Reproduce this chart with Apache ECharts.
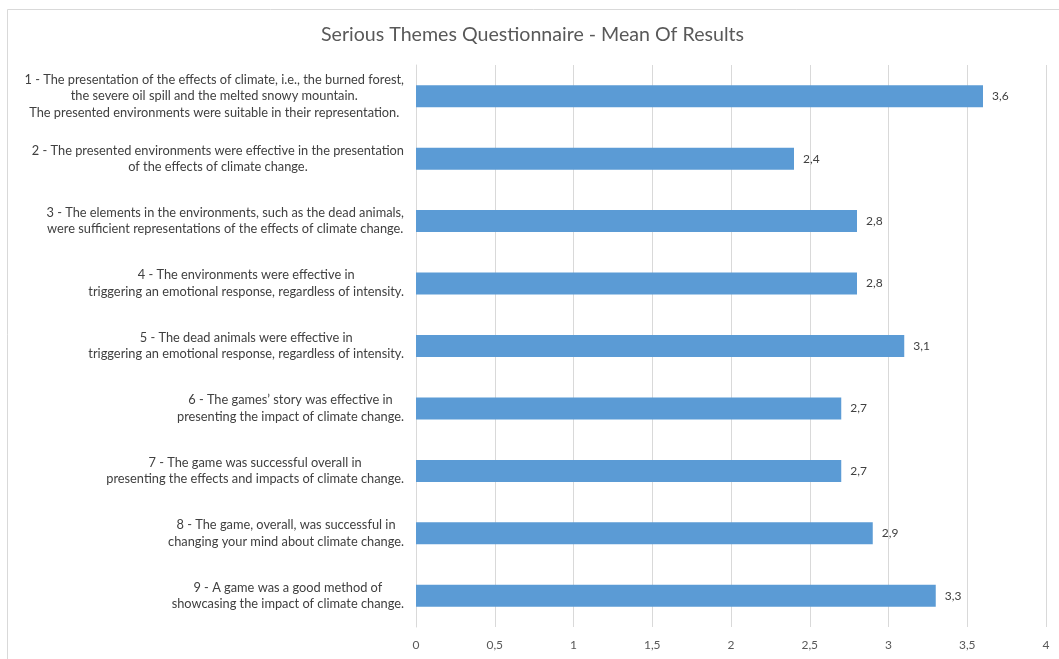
<!DOCTYPE html>
<html>
<head>
<meta charset="utf-8">
<script src="https://cdn.jsdelivr.net/npm/echarts@6/dist/echarts.min.js"></script>
<style>html,body{margin:0;padding:0;background:#fff;}#c{width:1059px;height:659px;}</style>
</head>
<body>
<div id="c"></div>
<script>
const title = "Serious Themes Questionnaire - Mean Of Results";
const categories = [
  "1 - The presentation of the effects of climate, i.e., the burned forest,\nthe severe oil spill and the melted snowy mountain.\nThe presented environments were suitable in their representation.",
  "2 - The presented environments were effective in the presentation\nof the effects of climate change.",
  "3 - The elements in the environments, such as the dead animals,\nwere sufficient representations of the effects of climate change.",
  "4 - The environments were effective in\ntriggering an emotional response, regardless of intensity.",
  "5 - The dead animals were effective in\ntriggering an emotional response, regardless of intensity.",
  "6 - The games\u2019 story was effective in\npresenting the impact of climate change.",
  "7 - The game was successful overall in\npresenting the effects and impacts of climate change.",
  "8 - The game, overall, was successful in\nchanging your mind about climate change.",
  "9 - A game was a good method of\nshowcasing the impact of climate change."
];
const means = [3.6, 2.4, 2.8, 2.8, 3.1, 2.7, 2.7, 2.9, 3.3];
const xMin = 0, xMax = 4, xStep = 0.5;

const fmt = v => String(v).replace('.', ',');
const FONT = 'Lato, "Open Sans", sans-serif';

const chart = echarts.init(document.getElementById('c'), null, {renderer: 'canvas'});
chart.setOption({
  animation: false,
  backgroundColor: '#ffffff',
  graphic: [{
    type: 'rect', silent: true, z: -1,
    shape: {x: 7.5, y: 9.5, width: 1200, height: 800},
    style: {fill: 'none', stroke: '#d9d9d9', lineWidth: 1}
  }],
  title: {
    text: title, left: 316, top: 20,
    textStyle: {fontFamily: FONT, fontSize: 19.6, fontWeight: 'normal', color: '#595959'}
  },
  grid: {left: 416, right: 13, top: 65, bottom: 32, containLabel: false},
  xAxis: {
    type: 'value', min: xMin, max: xMax, interval: xStep,
    axisLine: {show: false}, axisTick: {show: false},
    splitLine: {show: true, lineStyle: {color: '#d9d9d9', width: 1}},
    axisLabel: {fontFamily: FONT, fontSize: 12, color: '#595959', margin: 12, formatter: v => fmt(v)}
  },
  yAxis: {
    type: 'category', data: categories, inverse: true,
    axisLine: {show: true, lineStyle: {color: '#d9d9d9'}},
    axisTick: {show: false},
    axisLabel: {
      margin: 12, interval: 0,
      formatter: v => v.split('\n').map(l => '{c|' + l + '}').join('\n'),
      rich: {c: {align: 'center', fontFamily: FONT, fontSize: 12.8, color: '#404040', lineHeight: 16.5}}
    }
  },
  series: [{
    type: 'bar', data: means, barWidth: 22,
    itemStyle: {color: '#5b9bd5'},
    label: {show: true, position: 'right', distance: 9, fontFamily: FONT, fontSize: 12, color: '#404040', formatter: p => fmt(p.value)}
  }]
});
</script>
</body>
</html>
